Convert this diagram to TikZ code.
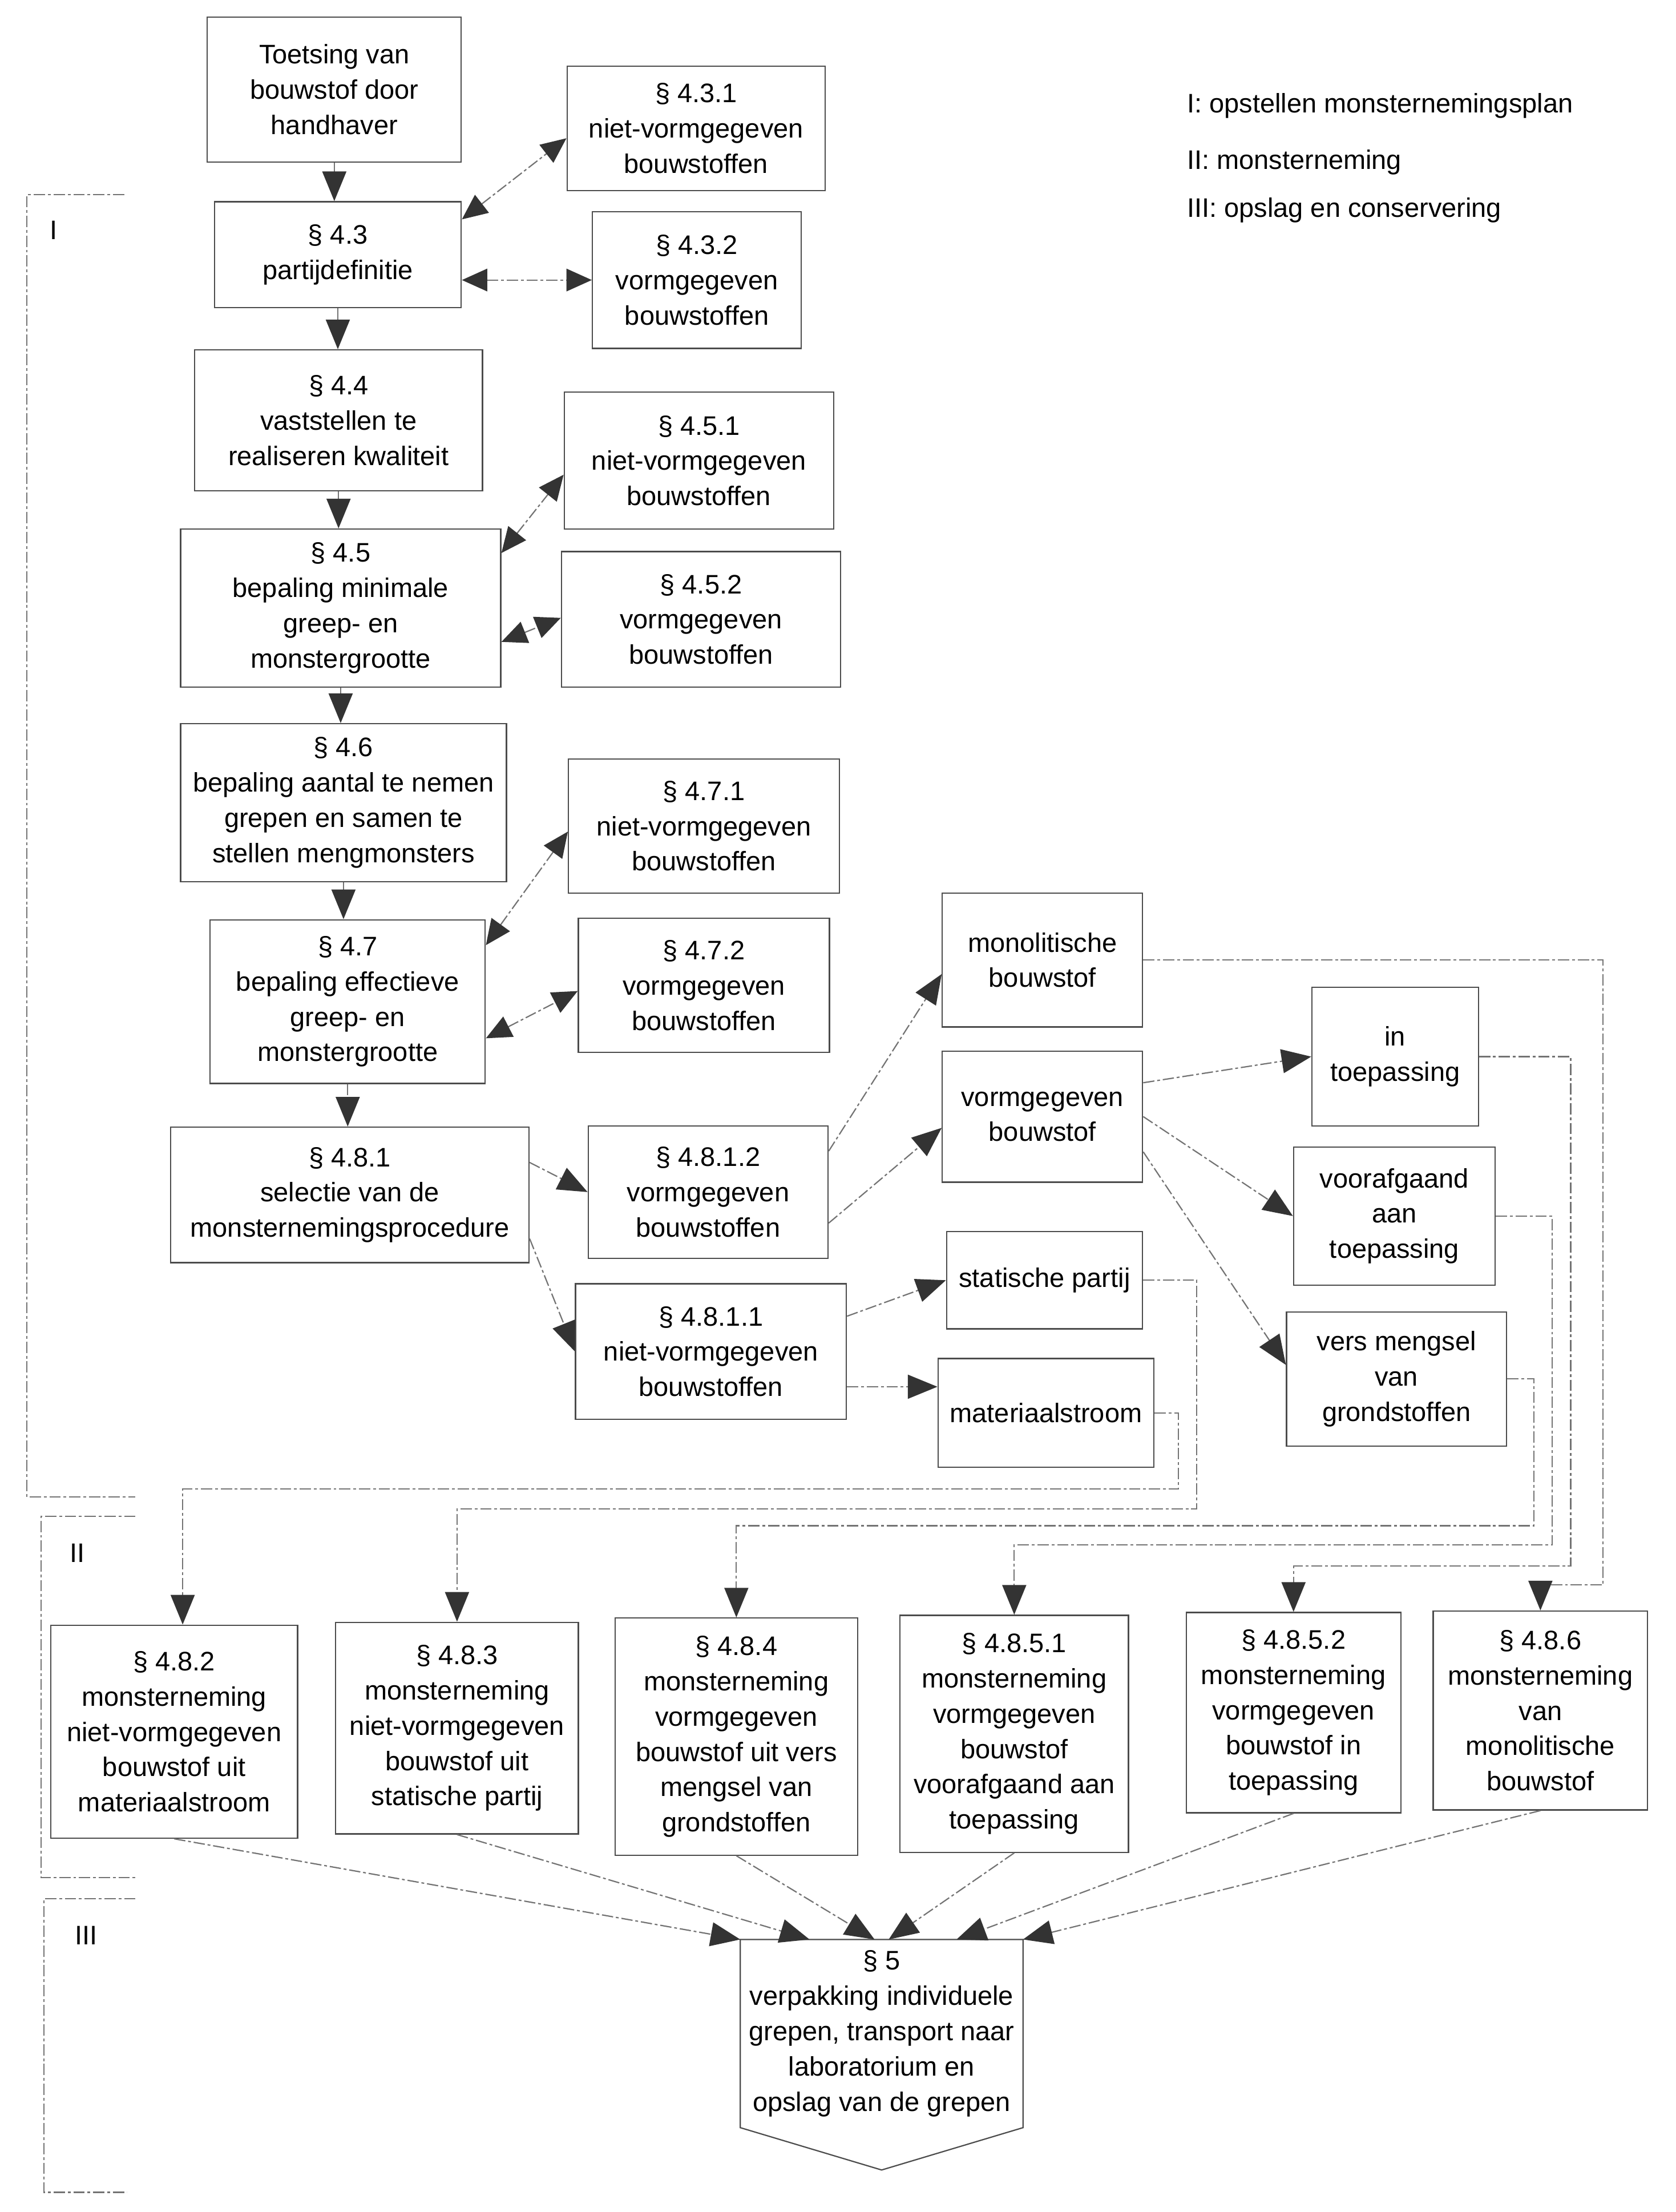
\documentclass[tikz,border=0pt]{standalone}
\usepackage{fontspec}
\setmainfont{Liberation Sans}
\usetikzlibrary{arrows.meta,calc}

\begin{document}
\begin{tikzpicture}[x=1pt,y=-1pt]
        \tikzstyle{every node}=[font=\fontsize{19}{25}\selectfont]
        \tikzstyle{box}=[draw=black!70, line width=0.9pt, align=center, inner sep=2pt]
        \tikzstyle{conn}=[draw=black!55, line width=0.9pt, dash pattern=on 8pt off 2pt on 2pt off 2pt]
        \tikzstyle{flow}=[-{Triangle[length=21pt,width=17pt,color=black!80]}]
        \tikzstyle{flowboth}=[{Triangle[length=18pt,width=16pt,color=black!80]}-{Triangle[length=18pt,width=16pt,color=black!80]}]
        \useasboundingbox (0,0) rectangle (1188,1568);

        % fase I
        \node[box, minimum width=180, minimum height=103] (toetsing) at (237,63.5) {Toetsing van\\bouwstof door\\handhaver};
        \node[box, minimum width=175, minimum height=75] (par43) at (239.5,180.5) {§ 4.3\\partijdefinitie};
        \node[box, minimum width=183, minimum height=88] (par431) at (493.5,91) {§ 4.3.1\\niet-vormgegeven\\bouwstoffen};
        \node[box, minimum width=148, minimum height=97] (par432) at (494,198.5) {§ 4.3.2\\vormgegeven\\bouwstoffen};
        \node[box, minimum width=204, minimum height=100] (par44) at (240,298) {§ 4.4\\vaststellen te\\realiseren kwaliteit};
        \node[box, minimum width=191, minimum height=97] (par451) at (495.5,326.5) {§ 4.5.1\\niet-vormgegeven\\bouwstoffen};
        \node[box, minimum width=227, minimum height=112] (par45) at (241.5,431) {§ 4.5\\bepaling minimale\\greep- en\\monstergrootte};
        \node[box, minimum width=198, minimum height=96] (par452) at (497,439) {§ 4.5.2\\vormgegeven\\bouwstoffen};
        \node[box, minimum width=231, minimum height=112] (par46) at (243.5,569) {§ 4.6\\bepaling aantal te nemen\\grepen en samen te\\stellen mengmonsters};
        \node[box, minimum width=192, minimum height=95] (par471) at (499,585.5) {§ 4.7.1\\niet-vormgegeven\\bouwstoffen};
        \node[box, minimum width=195, minimum height=116] (par47) at (246.5,710) {§ 4.7\\bepaling effectieve\\greep- en\\monstergrootte};
        \node[box, minimum width=178, minimum height=95] (par472) at (499,698.5) {§ 4.7.2\\vormgegeven\\bouwstoffen};
        \node[box, minimum width=254, minimum height=96] (par481) at (248,847) {§ 4.8.1\\selectie van de\\monsternemingsprocedure};
        \node[box, minimum width=170, minimum height=94] (par4812) at (502,845) {§ 4.8.1.2\\vormgegeven\\bouwstoffen};
        \node[box, minimum width=192, minimum height=96] (par4811) at (504,958) {§ 4.8.1.1\\niet-vormgegeven\\bouwstoffen};
        \node[box, minimum width=142, minimum height=95] (mono) at (739,680.5) {monolitische\\bouwstof};
        \node[box, minimum width=142, minimum height=93] (vorm) at (739,791.5) {vormgegeven\\bouwstof};
        \node[box, minimum width=139, minimum height=69] (statisch) at (740.5,907.5) {statische partij};
        \node[box, minimum width=153, minimum height=77] (stroom) at (741.5,1001.5) {materiaalstroom};
        \node[box, minimum width=118, minimum height=98] (intoep) at (989,749) {in\\toepassing};
        \node[box, minimum width=143, minimum height=98] (vooraf) at (988.5,862) {voorafgaand\\aan\\toepassing};
        \node[box, minimum width=156, minimum height=95] (vers) at (990,977.5) {vers mengsel\\van\\grondstoffen};

        % fase II
        \node[box, minimum width=175, minimum height=151] (par482) at (123.5,1227.5) {§ 4.8.2\\monsterneming\\niet-vormgegeven\\bouwstof uit\\materiaalstroom};
        \node[box, minimum width=172, minimum height=150] (par483) at (324,1225) {§ 4.8.3\\monsterneming\\niet-vormgegeven\\bouwstof uit\\statische partij};
        \node[box, minimum width=172, minimum height=168] (par484) at (522,1231) {§ 4.8.4\\monsterneming\\vormgegeven\\bouwstof uit vers\\mengsel van\\grondstoffen};
        \node[box, minimum width=162, minimum height=168] (par4851) at (719,1229) {§ 4.8.5.1\\monsterneming\\vormgegeven\\bouwstof\\voorafgaand aan\\toepassing};
        \node[box, minimum width=152, minimum height=142] (par4852) at (917,1214) {§ 4.8.5.2\\monsterneming\\vormgegeven\\bouwstof in\\toepassing};
        \node[box, minimum width=152, minimum height=141] (par486) at (1092,1212.5) {§ 4.8.6\\monsterneming\\van\\monolitische\\bouwstof};

        % fase III
        \node[minimum width=200, minimum height=133, align=center, inner sep=2pt] (par5) at (625,1441.5) {§ 5\\verpakking individuele\\grepen, transport naar\\laboratorium en\\opslag van de grepen};
        \draw[draw=black!70, line width=0.9pt] (par5.north west) -- (par5.north east) -- (par5.south east) -- ([yshift=-30]par5.south) -- (par5.south west) -- cycle;

        % legenda en fasen
        \node[anchor=west] (legI) at (838,75) {I: opstellen monsternemingsplan};
        \node[anchor=west] (legII) at (838,115) {II: monsterneming};
        \node[anchor=west] (legIII) at (838,149) {III: opslag en conservering};
        \node (faseI) at (38,163) {I};
        \node (faseII) at (55,1101) {II};
        \node (faseIII) at (61,1372) {III};
        \draw[conn] (88,138) -- (19,138) -- (19,1061) -- (96,1061);
        \draw[conn] (96,1075) -- (29,1075) -- (29,1331) -- (96,1331);
        \draw[conn] (96,1346) -- (31,1346) -- (31,1554) -- (90,1554);

        % hoofdlijn
        \draw[conn,flow] (toetsing.south) -- (toetsing.south |- par43.north);
        \draw[conn,flow] (par43.south) -- (par43.south |- par44.north);
        \draw[conn,flow] (par44.south) -- (par44.south |- par45.north);
        \draw[conn,flow] (par45.south) -- (par45.south |- par46.north);
        \draw[conn,flow] (par46.south) -- (par46.south |- par47.north);
        \draw[conn,flow] (par47.south) -- (par47.south |- par481.north);

        \draw[conn,flowboth] ([yshift=25]par43.east) -- ([yshift=-7]par431.west);
        \draw[conn,flowboth] ([yshift=-18]par43.east) -- (par432.west);
        \draw[conn,flowboth] ([yshift=39]par45.east) -- ([yshift=-10]par451.west);
        \draw[conn,flowboth] ([yshift=-24]par45.east) -- ([yshift=1]par452.west);
        \draw[conn,flowboth] ([yshift=40]par47.east) -- ([yshift=-4]par471.west);
        \draw[conn,flowboth] ([yshift=-26]par47.east) -- ([yshift=-4]par472.west);

        % keuze procedure
        \draw[conn,flow] ([yshift=23]par481.east) -- (par4812.west);
        \draw[conn,flow] ([yshift=-31]par481.east) -- (par4811.west);
        \draw[conn,flow] ([yshift=29]par4812.east) -- ([yshift=-10]mono.west);
        \draw[conn,flow] ([yshift=-22]par4812.east) -- ([yshift=-8]vorm.west);
        \draw[conn,flow] ([yshift=25]par4811.east) -- (statisch.west);
        \draw[conn,flow] ([yshift=-25]par4811.east) -- ([yshift=-25]par4811.east -| stroom.west);
        \draw[conn,flow] ([yshift=24]vorm.east) -- (intoep.west);
        \draw[conn,flow] (vorm.east) -- (vooraf.west);
        \draw[conn,flow] ([yshift=-25]vorm.east) -- ([yshift=10]vers.west);

        % naar monsterneming
        \draw[conn,flow] (stroom.east) -- ++(17,0) -- ++(0,54) -| ([xshift=6]par482.north);
        \draw[conn,flow] (statisch.east) -- ++(38,0) -- ++(0,162) -| (par483.north);
        \draw[conn,flow] (vers.east) -- ++(19,0) -- ++(0,104) -| (par484.north);
        \draw[conn,flow] (vooraf.east) -- ++(40,0) -- ++(0,233) -| (par4851.north);
        \draw[conn,flow] (intoep.east) -- ++(65,0) -- ++(0,361) -| (par4852.north);
        \draw[conn,flow] (mono.east) -- ++(326,0) -- ++(0,443) -| (par486.north);

        % naar opslag
        \draw[conn,flow] (par482.south) -- (par5.north west);
        \draw[conn,flow] (par483.south) -- ($(par5.north west)!0.245!(par5.north east)$);
        \draw[conn,flow] (par484.south) -- ($(par5.north west)!0.475!(par5.north east)$);
        \draw[conn,flow] (par4851.south) -- ($(par5.north west)!0.525!(par5.north east)$);
        \draw[conn,flow] (par4852.south) -- ($(par5.north west)!0.765!(par5.north east)$);
        \draw[conn,flow] (par486.south) -- (par5.north east);
\end{tikzpicture}
\end{document}
